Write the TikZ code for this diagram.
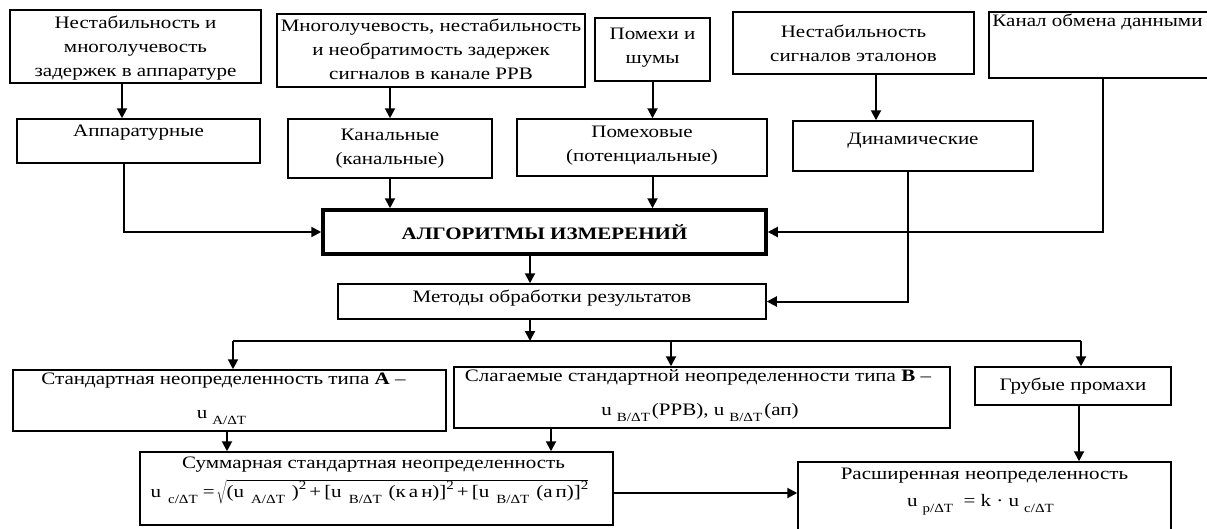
\documentclass[tikz,border=0pt]{standalone}
\usepackage{fontspec}
\setmainfont{Liberation Serif}[FakeStretch=1.2]
\usetikzlibrary{arrows.meta,fit,calc}
\newcommand\mysub[1]{\raisebox{-0.36em}{\fontsize{12.5}{13}\selectfont #1}}
\newcommand\mysup[1]{\raisebox{0.42em}{\fontsize{12.5}{13}\selectfont #1}}
\newcommand\uu[1]{u\hspace{5pt}\mysub{#1}}
\newcommand\uf[1]{u\hspace{7pt}\mysub{#1}}
\begin{document}
\begin{tikzpicture}[x=1pt,y=-1pt,
  box/.style={draw, line width=1.5pt, inner sep=0pt},
  bbox/.style={draw, line width=3.5pt, inner sep=0pt},
  txt/.style={inner sep=0pt, align=center, font=\fontsize{17.5}{24}\selectfont},
  arr/.style={line width=2pt, -{Triangle[length=10pt,width=10pt]}},
  ln/.style={line width=2pt},
]
\useasboundingbox (0,0) rectangle (1207,528);
% boxes
\node[box, fit={(10,10)(261,83)}] (b1) {};
\node[box, fit={(277,14)(585,87)}] (b2) {};
\node[box, fit={(595,18)(710,81)}] (pm) {};
\node[box, fit={(733,12)(974,74)}] (ns) {};
\node[box, fit={(989,12)(1217,78)}] (kd) {};
\node[box, fit={(17,119)(260,163)}] (app) {};
\node[box, fit={(288,119)(492,178)}] (kan) {};
\node[box, fit={(517,119)(767,176)}] (pmv) {};
\node[box, fit={(793,121)(1033,171)}] (din) {};
\node[bbox, fit={(323,210)(766,254)}] (alg) {};
\node[box, fit={(338,284)(766,319)}] (met) {};
\node[box, fit={(13,370)(446,431)}] (sA) {};
\node[box, fit={(454,367)(950,428)}] (sB) {};
\node[box, fit={(975,367)(1171,405)}] (gr) {};
\node[box, fit={(140,452)(613,525)}] (sum) {};
\node[box, fit={(798,462)(1171,536)}] (ras) {};
% texts
\node[txt] (t1) at ($(b1.center)+(0,2)$) {Нестабильность и\\многолучевость\\задержек в аппаратуре};
\node[txt] (t2) at ($(b2.center)+(0,-1)$) {Многолучевость, нестабильность\\и необратимость задержек\\сигналов в канале РРВ};
\node[txt] (t3) at ($(pm.center)+(0,-2)$) {Помехи и\\шумы};
\node[txt] (t4) at (ns.center) {Нестабильность\\сигналов эталонов};
\node[txt, anchor=base west] (t5) at ($(kd.north west)+(4,15)$) {Канал обмена данными};
\node[txt, anchor=base] (t6) at ($(app.north)+(0,18)$) {Аппаратурные};
\node[txt] (t7) at (kan.center) {Канальные\\(канальные)};
\node[txt] (t8) at ($(pmv.center)+(0,-2)$) {Помеховые\\(потенциальные)};
\node[txt, anchor=base] (t9) at ($(din.north)+(0,24)$) {Динамические};
\node[txt] (t10) at (alg.center) {\textbf{АЛГОРИТМЫ ИЗМЕРЕНИЙ}};
\node[txt, anchor=base] (t11) at ($(met.north)+(0,19)$) {Методы обработки результатов};
\node[txt, anchor=base] (t12) at ($(sA.north)+(-6,15)$) {Стандартная неопределенность типа \textbf{A} –};
\node[txt, anchor=base] (t13) at ($(sA.north)+(-8,49)$) {\uu{A/ΔT}};
\node[txt, anchor=base] (t14) at ($(sB.north)+(-4,15)$) {Слагаемые стандартной неопределенности типа \textbf{B} –};
\node[txt, anchor=base] (t15) at ($(sB.north)+(-2,49)$) {\uu{B/ΔT}\hspace{2pt}(РРВ), \uu{B/ΔT}\hspace{2pt}(ап)};
\node[txt] (t16) at (gr.center) {Грубые промахи};
\node[txt, anchor=base] (t17) at ($(sum.north)+(-3,17)$) {Суммарная стандартная неопределенность};
\node[txt, anchor=base] (t18) at ($(sum.north)+(-7,46)$) {\uf{c/ΔT}\hspace{5pt}=\hspace{2pt}$\sqrt{\hbox{(\uf{A/ΔT}\hspace{7pt})\mysup{2}\hspace{3pt}+\hspace{3pt}[\uf{B/ΔT}\hspace{7pt}(к\hspace{3pt}а\hspace{3pt}н)]\mysup{2}\hspace{3pt}+\hspace{3pt}[\uf{B/ΔT}\hspace{7pt}(а\hspace{3pt}п)]\mysup{2}}}$};
\node[txt, anchor=base] (t19) at ($(ras.north)+(0,18)$) {Расширенная неопределенность};
\node[txt, anchor=base] (t20) at ($(ras.north)+(-4,45)$) {\uu{p/ΔT}\ \ = k · \uu{c/ΔT}};
% helper coordinates
\coordinate (x1) at (122,0);
\coordinate (x2) at (124,0);
\coordinate (x3) at (876,0);
\coordinate (x4) at (530,0);
\coordinate (x5) at (908,0);
\coordinate (x6) at (227,0);
\coordinate (x7) at (551,0);
\coordinate (x8) at (1079,0);
\coordinate (jl) at (233,341);
\coordinate (jm) at (671,341);
\coordinate (jr) at (1081,341);
\coordinate (jc) at (530,341);
\coordinate (hy) at (0,493);
% top arrows
\draw[arr] (b1.south -| x1) -- (app.north -| x1);
\draw[arr] (b2.south -| kan.north) -- (kan.north);
\draw[arr] (pm.south) -- (pm.south |- pmv.north);
\draw[arr] (ns.south -| x3) -- (din.north -| x3);
% into algorithms
\draw[arr] (app.south -| x2) |- (alg.west);
\draw[arr] (kan.south) -- (kan.south |- alg.north);
\draw[arr] (pmv.south -| pm.south) -- (pm.south |- alg.north);
\draw[arr] (kd.south) |- (alg.east);
\draw[arr] (din.south -| x5) |- (met.east);
\draw[arr] (alg.south -| x4) -- (met.north -| x4);
% distribution
\draw[arr] (met.south -| jc) -- (jc);
\draw[ln] (jl) -- (jr);
\draw[arr] (jl) -- (jl |- sA.north);
\draw[arr] (jm) -- (jm |- sB.north);
\draw[arr] (jr) -- (jr |- gr.north);
% bottom
\draw[arr] (sA.south -| x6) -- (sum.north -| x6);
\draw[arr] (sB.south -| x7) -- (sum.north -| x7);
\draw[arr] (gr.south -| x8) -- (ras.north -| x8);
\draw[arr] (sum.east |- hy) -- (ras.west |- hy);
\end{tikzpicture}
\end{document}
